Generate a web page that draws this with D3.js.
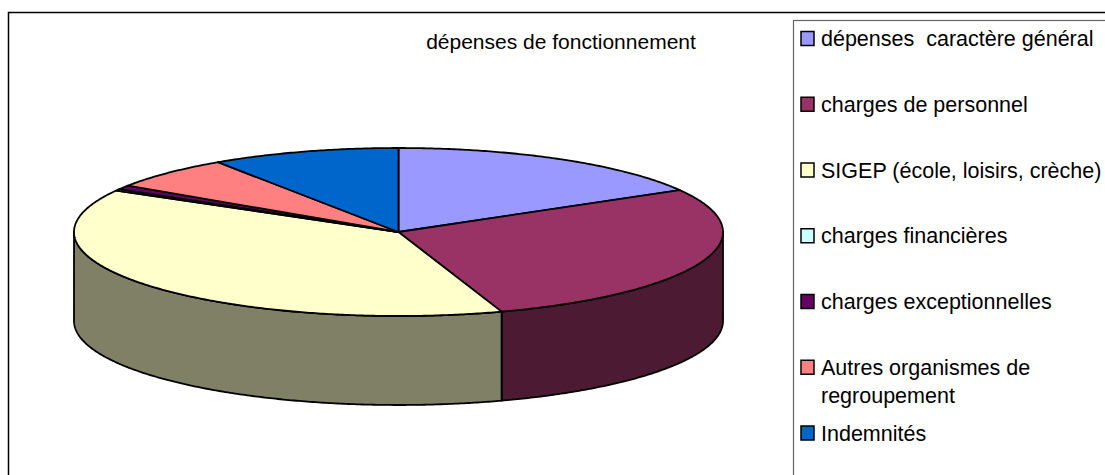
<!DOCTYPE html>
<html>
<head>
<meta charset="utf-8">
<script src="https://cdn.jsdelivr.net/npm/d3@7"></script>
<style>
  html, body { margin: 0; padding: 0; background: #fff; }
  svg { display: block; }
  text { font-family: "Liberation Sans", Arial, sans-serif; fill: #000; }
</style>
</head>
<body>
<svg id="chart" width="1105" height="475"></svg>
<script>
// ---- data ----
const title = "dépenses de fonctionnement";
const categories = [
  "dépenses\u00a0 caractère général",
  "charges de personnel",
  "SIGEP (école, loisirs, crèche)",
  "charges financières",
  "charges exceptionnelles",
  "Autres organismes de regroupement",
  "Indemnités"
];
const values = [16.7, 28.2, 38.4, 0.3, 0.8, 6.3, 9.4];
const colors = ["#9999FF", "#993366", "#FFFFCC", "#CCFFFF", "#660066", "#FF8080", "#0066CC"];

// ---- layout ----
const W = 1105, H = 475;
const svg = d3.select("#chart");

// chart frame (extends beyond the viewport right/bottom)
svg.append("rect")
  .attr("x", 8.5).attr("y", 12.5).attr("width", 1200).attr("height", 600)
  .attr("fill", "none").attr("stroke", "#000").attr("stroke-width", 1.5);

// title
svg.append("text")
  .attr("x", 561).attr("y", 42).attr("dy", "0.35em")
  .attr("text-anchor", "middle")
  .style("font-size", "21px")
  .text(title);

// ---- 3D pie ----
const cx = 398.5, cy = 232, rx = 324.5, ry = 84, depth = 89;
const sx = d3.scaleLinear().domain([-1, 1]).range([cx - rx, cx + rx]);
const sy = d3.scaleLinear().domain([-1, 1]).range([cy + ry, cy - ry]);

const arcs = d3.pie().sort(null).value(d => d)(values);

function rimPoints(a0, a1, dz) {
  const n = Math.max(2, Math.ceil((a1 - a0) / (Math.PI / 360)));
  return d3.range(n + 1).map(i => {
    const a = a0 + (a1 - a0) * i / n;
    return [sx(Math.sin(a)), sy(Math.cos(a)) + dz];
  });
}
const line = d3.line();

const gSides = svg.append("g");
const gTops = svg.append("g");

arcs.forEach((a, i) => {
  const base = d3.rgb(colors[i]);
  const sideCol = d3.rgb(base.r / 2, base.g / 2, base.b / 2);
  const s0 = Math.max(a.startAngle, Math.PI / 2);
  const s1 = Math.min(a.endAngle, 3 * Math.PI / 2);
  if (s1 > s0) {
    const top = rimPoints(s0, s1, 0);
    const bot = rimPoints(s0, s1, depth).reverse();
    gSides.append("path")
      .attr("d", line(top.concat(bot)) + "Z")
      .attr("fill", sideCol.formatHex())
      .attr("stroke", "#000").attr("stroke-width", 1.8)
      .attr("stroke-linejoin", "round");
  }
});

arcs.forEach((a, i) => {
  const pts = [[cx, cy]].concat(rimPoints(a.startAngle, a.endAngle, 0));
  gTops.append("path")
    .attr("d", line(pts) + "Z")
    .attr("fill", colors[i])
    .attr("stroke", "#000").attr("stroke-width", 1.8)
    .attr("stroke-linejoin", "round");
});

// ---- legend ----
svg.append("rect")
  .attr("x", 793.5).attr("y", 20.5).attr("width", 400).attr("height", 600)
  .attr("fill", "#fff").attr("stroke", "#666").attr("stroke-width", 1.2);

const ly = d3.scaleLinear().domain([0, categories.length - 1]).range([38.5, 433]);
const fs = 21.5, lineH = 28.5, maxW = 300;

const items = svg.append("g").selectAll("g").data(categories).join("g")
  .attr("transform", (d, i) => `translate(0,${ly(i)})`);

items.append("rect")
  .attr("x", 801).attr("y", -7).attr("width", 13).attr("height", 14)
  .attr("fill", (d, i) => colors[i])
  .attr("stroke", "#000").attr("stroke-width", 1.5);

items.append("text")
  .attr("x", 821).attr("dy", "0.35em")
  .style("font-size", fs + "px")
  .each(function(d) {
    const t = d3.select(this);
    const words = d.split(" ");
    let lineWords = [], lineNo = 0;
    let ts = t.append("tspan").attr("x", 821).attr("dy", "0.35em");
    words.forEach(w => {
      lineWords.push(w);
      ts.text(lineWords.join(" "));
      if (ts.node().getComputedTextLength() > maxW && lineWords.length > 1) {
        lineWords.pop();
        ts.text(lineWords.join(" "));
        lineWords = [w];
        lineNo++;
        ts = t.append("tspan").attr("x", 821).attr("dy", lineH + "px").text(w);
      }
    });
  })
  .attr("dy", null);
</script>
</body>
</html>
